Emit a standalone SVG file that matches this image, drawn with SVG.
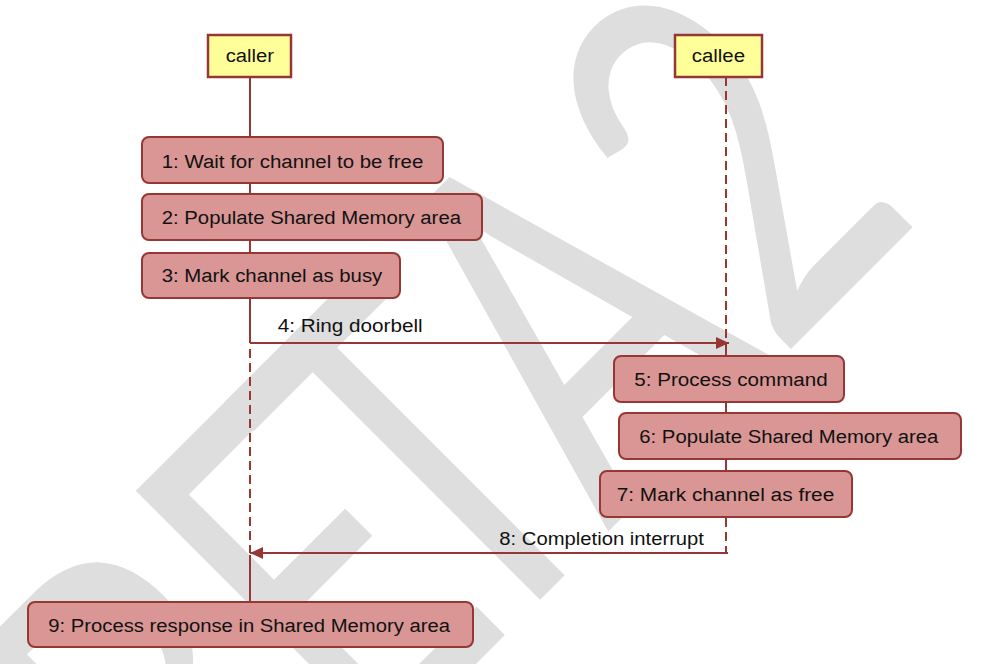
<svg xmlns="http://www.w3.org/2000/svg" width="997" height="664" viewBox="0 0 997 664">
<defs>
<style>
.wm{font-family:Lato,Carlito,"Liberation Sans",sans-serif;font-size:360px;fill:#dedede;text-anchor:middle;}
.act rect{fill:#d99694;stroke:#953735;stroke-width:2;}
.obj rect{fill:#ffff99;stroke:#953735;stroke-width:2.5;}
.t{font-family:"Liberation Sans",Arial,sans-serif;font-size:18px;fill:#111;}
.life{stroke:#953735;stroke-width:2;fill:none;}
.dash{stroke-dasharray:9 5;}
.msg{stroke:#953735;stroke-width:2;fill:none;marker-end:url(#arr);}
</style>
<marker id="arr" markerUnits="userSpaceOnUse" viewBox="0 0 13 12" markerWidth="13" markerHeight="12" refX="13" refY="6" orient="auto"><path d="M0,0 L13,6 L0,12 z" fill="#953735"/></marker>
</defs>
<rect width="997" height="664" fill="#ffffff"/>
<g id="watermark" transform="rotate(-45) translate(0,806) scale(1,1.407)">
<text class="wm" x="-395 -180 -25 175 400" y="0">BETA2</text>
</g>
<g id="connectors">
<path class="life" d="M250,77 V137 M250,183 V194 M250,240 V253 M250,298 V343"/>
<path class="life dash" d="M250,349 V553"/>
<path class="life" d="M250,555 V602"/>
<path class="life dash" d="M726,77 V343"/>
<path class="life" d="M726,343 V356 M726,402 V413 M726,459 V471 M726,517 V527"/>
<path class="life dash" d="M726,532 V553"/>
<path class="msg" d="M250,343 H729"/>
<path class="msg" d="M728,553 H250"/>
<text class="t" x="277.7" y="332" textLength="145" lengthAdjust="spacingAndGlyphs">4: Ring doorbell</text>
<text class="t" x="499.3" y="545" textLength="204.7" lengthAdjust="spacingAndGlyphs">8: Completion interrupt</text>
</g>
<g id="caller" class="obj"><rect x="208" y="35" width="83" height="42"/><text class="t" x="225.7" y="62" textLength="48.3" lengthAdjust="spacingAndGlyphs">caller</text></g>
<g id="callee" class="obj"><rect x="675" y="35" width="87" height="42"/><text class="t" x="691.7" y="62" textLength="53.3" lengthAdjust="spacingAndGlyphs">callee</text></g>
<g id="step1" class="act"><rect x="142" y="137" width="301" height="46" rx="7"/><text class="t" x="161.7" y="167.5" textLength="261.6" lengthAdjust="spacingAndGlyphs">1: Wait for channel to be free</text></g>
<g id="step2" class="act"><rect x="142" y="194" width="340" height="46" rx="7"/><text class="t" x="161.7" y="224" textLength="299.3" lengthAdjust="spacingAndGlyphs">2: Populate Shared Memory area</text></g>
<g id="step3" class="act"><rect x="142" y="253" width="258" height="45" rx="7"/><text class="t" x="161.7" y="282" textLength="220.6" lengthAdjust="spacingAndGlyphs">3: Mark channel as busy</text></g>
<g id="step5" class="act"><rect x="614" y="356" width="230" height="46" rx="7"/><text class="t" x="634.3" y="385.5" textLength="193.4" lengthAdjust="spacingAndGlyphs">5: Process command</text></g>
<g id="step6" class="act"><rect x="619" y="413" width="342" height="46" rx="7"/><text class="t" x="639.3" y="442.5" textLength="299" lengthAdjust="spacingAndGlyphs">6: Populate Shared Memory area</text></g>
<g id="step7" class="act"><rect x="600" y="471" width="252" height="46" rx="7"/><text class="t" x="616.7" y="500.5" textLength="217.6" lengthAdjust="spacingAndGlyphs">7: Mark channel as free</text></g>
<g id="step9" class="act"><rect x="28" y="602" width="445" height="45" rx="7"/><text class="t" x="48.3" y="631.5" textLength="401.7" lengthAdjust="spacingAndGlyphs">9: Process response in Shared Memory area</text></g>
</svg>
